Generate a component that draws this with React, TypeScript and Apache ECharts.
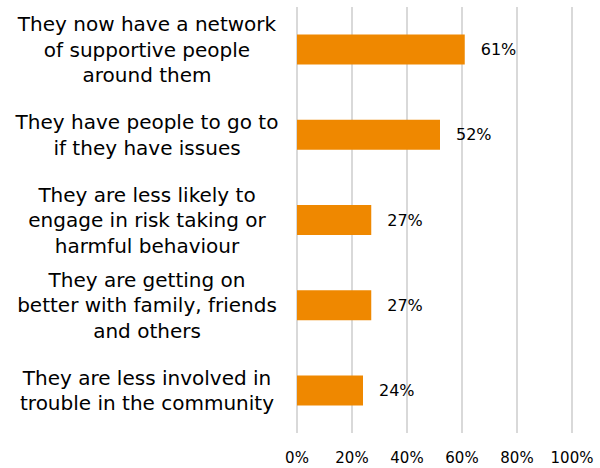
import React, { useEffect, useRef } from "react";
import * as echarts from "echarts";

const categories = [
  "They now have a network\nof supportive people\naround them",
  "They have people to go to\nif they have issues",
  "They are less likely to\nengage in risk taking or\nharmful behaviour",
  "They are getting on\nbetter with family, friends\nand others",
  "They are less involved in\ntrouble in the community",
];
const values = [61, 52, 27, 27, 24];
const xTicks = { min: 0, max: 100, interval: 20 };

export default function App() {
  const ref = useRef<HTMLDivElement>(null);
  useEffect(() => {
    if (!ref.current) return;
    const chart = echarts.init(ref.current, undefined, { renderer: "svg" });
    chart.setOption({
      animation: false,
      backgroundColor: "#ffffff",
      textStyle: { fontFamily: "DejaVu Sans" },
      grid: { left: 297, right: 28, top: 7, bottom: 35, containLabel: false },
      xAxis: {
        type: "value",
        min: xTicks.min,
        max: xTicks.max,
        interval: xTicks.interval,
        axisLine: { show: false },
        axisTick: { show: false },
        splitLine: { show: true, lineStyle: { color: "#d9d9d9", width: 2 } },
        axisLabel: {
          formatter: "{value}%",
          color: "#000000",
          fontSize: 15,
          margin: 17,
          fontFamily: "DejaVu Sans",
        },
      },
      yAxis: {
        type: "category",
        inverse: true,
        data: categories,
        axisLine: { show: false },
        axisTick: { show: false },
        axisLabel: {
          color: "#000000",
          fontSize: 20,
          lineHeight: 25.5,
          align: "center",
          margin: 150,
          fontFamily: "DejaVu Sans",
        },
      },
      series: [
        {
          type: "bar",
          data: values,
          barWidth: 30,
          itemStyle: { color: "#EF8800" },
          label: {
            show: true,
            position: "right",
            distance: 16,
            formatter: "{c}%",
            color: "#000000",
            fontSize: 16,
            fontFamily: "DejaVu Sans",
          },
        },
      ],
    });
    return () => chart.dispose();
  }, []);
  return (
    <div
      ref={ref}
      style={{ position: "fixed", left: 0, top: 0, width: 600, height: 468 }}
    />
  );
}
